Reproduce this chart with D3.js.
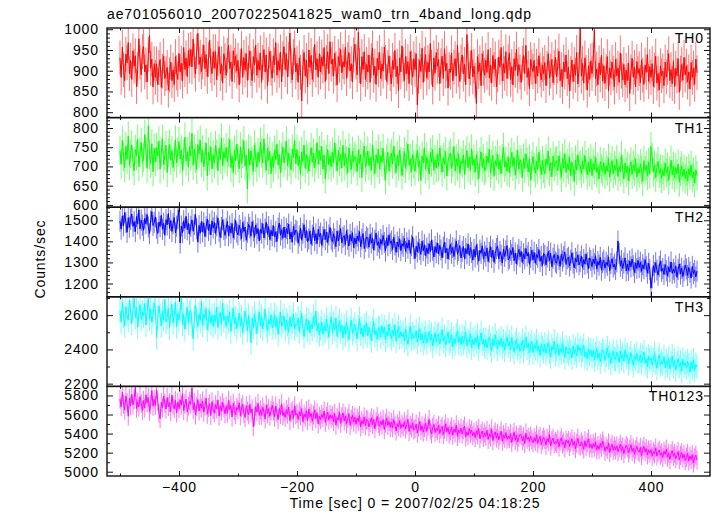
<!DOCTYPE html>
<html><head><meta charset="utf-8">
<script src="https://cdn.jsdelivr.net/npm/d3@7"></script>
<style>
body{margin:0;background:#fff}
text{font-family:"Liberation Sans",Arial,Helvetica,sans-serif}
</style>
</head><body>
<svg id="chart" width="717" height="516"></svg>
<script>
// ---- data (count rates, 2 s bins starting at t = -500 s) ----
const binStart = -500, binWidth = 2;
const th0 = [931,884,957,902,876,940,919,968,893,925,
879,948,911,936,862,903,977,921,890,946,
958,897,914,873,939,985,906,928,861,917,
884,917,866,908,927,860,899,936,881,893,
908,853,890,921,876,902,867,934,895,879,
942,897,918,875,956,903,931,886,949,912,
951,909,976,924,892,946,990,915,933,898,
921,962,905,939,886,927,974,912,893,946,
907,946,878,929,958,893,917,870,941,924,
889,937,962,905,921,874,948,913,936,899,
925,866,911,953,884,932,902,941,877,919,
948,905,876,934,914,962,889,925,901,943,
872,920,951,897,938,863,915,947,906,882,
936,914,968,889,924,901,945,873,929,958,
903,941,885,927,991,912,878,934,955,897,
918,872,931,896,827,909,944,887,925,861,
950,908,937,879,915,963,902,929,884,941,
897,933,911,956,874,920,946,893,970,916,
928,887,942,905,866,934,913,951,895,922,
909,957,881,926,944,899,917,873,938,964,
921,890,993,912,868,934,903,946,879,915,
897,938,872,924,955,889,911,867,930,902,
944,881,916,899,957,920,874,908,936,893,
868,925,903,949,886,911,852,931,897,960,
915,876,934,893,922,869,946,907,884,929,
903,941,818,887,925,898,954,872,916,939,
882,920,897,966,908,861,931,894,944,911,
927,869,912,935,881,953,899,918,858,904,
896,943,876,909,929,887,962,902,874,921,
938,892,915,866,987,924,880,907,949,885,
911,877,821,934,898,919,864,941,906,889,
925,896,951,882,913,870,937,903,928,861,
890,933,908,956,875,917,894,946,881,922,
943,879,910,866,929,901,952,888,915,897,
872,918,937,893,961,884,906,857,927,909,
898,925,869,911,887,936,902,878,914,893,
920,864,906,941,882,899,927,871,908,933,
885,912,947,876,903,862,921,897,938,881,
909,851,893,926,874,915,889,944,868,902,
1004,887,918,870,931,896,853,912,879,924,
893,926,999,881,904,866,919,890,937,875,
912,869,898,934,851,907,883,921,894,861,
927,888,906,872,943,899,878,915,866,901,
876,919,845,897,930,884,908,861,922,893,
905,871,926,889,867,914,896,939,874,910,
884,917,862,901,935,870,893,854,912,888,
899,864,921,885,908,941,876,903,869,924,
862,906,888,929,848,894,915,877,932,890,
911,873,897,856,920,884,906,867,928,895];
const th1 = [741,706,768,725,697,752,718,779,702,733,
756,713,689,744,728,771,699,736,762,711,
724,783,738,695,806,731,708,759,686,747,
712,749,727,766,693,738,771,704,729,755,
684,735,758,716,742,697,724,769,709,737,
765,719,743,688,731,776,714,739,698,752,
727,786,703,745,721,692,757,733,768,711,
743,699,726,761,675,738,716,751,694,730,
708,755,732,689,747,718,774,703,737,721,
749,712,736,770,697,728,684,743,715,758,
722,694,751,708,733,767,701,729,642,746,
703,741,715,687,756,724,698,737,711,763,
735,709,772,722,690,748,716,739,681,726,
697,743,718,758,704,731,683,724,751,710,
729,766,701,734,712,691,745,722,768,707,
744,702,727,679,738,713,756,695,730,719,
688,725,749,711,735,697,721,762,706,741,
716,752,693,730,668,718,744,704,727,699,
737,709,761,724,689,742,713,731,696,755,
701,733,715,683,748,722,692,739,711,726,
719,687,742,708,731,671,724,753,698,716,
740,702,723,690,756,714,681,730,709,745,
693,728,711,747,700,665,719,737,688,722,
734,706,752,716,684,729,701,743,712,677,
710,739,695,725,758,703,720,686,731,706,
688,721,742,698,715,664,727,709,749,693,
725,702,680,736,711,744,690,718,696,731,
699,748,716,685,723,706,739,675,712,728,
735,694,711,752,688,720,701,733,682,714,
707,730,679,717,741,696,724,690,746,703,
719,685,731,702,668,712,738,697,721,689,
696,727,710,744,683,706,729,674,715,701,
732,693,716,681,720,750,698,713,687,725,
684,711,736,700,724,677,705,742,692,718,
709,671,722,695,733,711,686,719,664,703,
726,698,683,714,692,737,705,679,716,694,
681,719,704,740,688,710,673,727,699,712,
715,689,728,702,671,721,696,733,684,707,
692,724,676,711,698,661,717,690,730,701,
703,682,714,693,728,705,678,711,687,720,
676,708,691,725,684,699,667,713,694,686,
710,679,702,688,721,672,697,715,681,703,
690,719,674,700,686,729,693,668,709,684,
701,663,696,712,679,704,688,720,672,695,
683,707,691,661,715,689,702,676,711,680,
752,724,685,704,671,698,713,682,694,669,
692,675,709,683,698,664,689,716,678,701,
671,697,680,706,659,687,702,674,693,668,
688,662,694,677,703,670,685,657,691,676];
const th2 = [1496,1458,1521,1474,1537,1489,1443,1512,1467,1505,
1530,1471,1494,1446,1518,1482,1549,1459,1501,1477,
1452,1509,1483,1527,1468,1436,1497,1541,1475,1490,
1516,1463,1438,1492,1470,1524,1457,1486,1429,1503,
1478,1532,1461,1499,1447,1484,1513,1440,1472,1507,
1548,1392,1473,1441,1498,1462,1519,1455,1486,1434,
1471,1502,1448,1480,1527,1459,1396,1476,1438,1494,
1445,1488,1423,1469,1506,1451,1482,1430,1497,1463,
1490,1437,1474,1511,1448,1419,1466,1502,1456,1428,
1462,1495,1427,1473,1440,1485,1416,1458,1499,1444,
1431,1476,1454,1412,1489,1447,1468,1405,1443,1481,
1465,1424,1493,1450,1419,1478,1436,1461,1402,1457,
1439,1484,1416,1458,1491,1433,1470,1408,1452,1426,
1475,1421,1446,1399,1463,1487,1429,1455,1414,1468,
1418,1460,1437,1482,1411,1444,1396,1472,1431,1453,
1447,1391,1426,1463,1405,1438,1479,1417,1452,1398,
1412,1450,1386,1429,1468,1403,1436,1389,1457,1422,
1439,1381,1421,1457,1408,1445,1394,1430,1466,1410,
1398,1436,1413,1375,1449,1402,1428,1461,1392,1419,
1427,1384,1452,1409,1378,1433,1401,1441,1370,1416,
1388,1425,1403,1446,1374,1411,1437,1366,1399,1421,
1414,1372,1434,1392,1416,1359,1405,1440,1381,1398,
1367,1409,1386,1428,1395,1354,1417,1379,1431,1391,
1402,1361,1420,1383,1348,1397,1374,1412,1356,1389,
1376,1415,1352,1393,1368,1406,1343,1381,1422,1365,
1318,1377,1349,1394,1362,1338,1401,1356,1384,1331,
1369,1342,1389,1351,1407,1358,1326,1375,1346,1392,
1340,1381,1359,1322,1373,1396,1345,1367,1316,1361,
1386,1344,1371,1328,1363,1402,1339,1357,1380,1321,
1352,1375,1318,1366,1341,1388,1333,1370,1347,1311,
1362,1325,1384,1339,1306,1358,1343,1379,1316,1350,
1331,1369,1304,1348,1376,1323,1359,1301,1342,1366,
1379,1317,1352,1335,1297,1364,1328,1355,1380,1312,
1320,1357,1338,1371,1308,1345,1293,1336,1362,1327,
1353,1300,1341,1318,1366,1330,1347,1291,1324,1358,
1312,1348,1296,1337,1323,1361,1305,1329,1284,1343,
1333,1289,1326,1352,1309,1344,1279,1320,1338,1302,
1296,1335,1315,1281,1340,1307,1327,1350,1290,1318,
1325,1283,1311,1346,1297,1274,1319,1302,1336,1288,
1304,1331,1276,1314,1292,1339,1298,1271,1322,1309,
1280,1316,1294,1332,1268,1305,1287,1324,1263,1299,
1311,1273,1301,1286,1327,1260,1295,1318,1278,1292,
1266,1303,1402,1343,1282,1309,1271,1297,1322,1259,
1293,1262,1307,1279,1316,1284,1252,1298,1271,1310,
1276,1301,1258,1289,1270,1313,1281,1249,1296,1266,
1178,1227,1285,1253,1299,1264,1240,1281,1307,1258,
1272,1243,1290,1261,1236,1279,1255,1302,1248,1268,
1251,1284,1229,1266,1293,1245,1273,1233,1260,1287,
1269,1238,1276,1254,1226,1281,1247,1262,1231,1259];
const th3 = [2623,2561,2678,2594,2537,2649,2602,2571,2688,2615,
2552,2631,2703,2586,2644,2529,2607,2662,2574,2619,
2596,2668,2543,2617,2712,2578,2635,2558,2601,2672,
2639,2468,2581,2654,2599,2538,2621,2573,2692,2560,
2587,2641,2526,2609,2663,2554,2598,2677,2532,2612,
2571,2628,2702,2547,2604,2519,2583,2645,2556,2614,
2629,2548,2462,2591,2657,2576,2532,2609,2565,2681,
2540,2607,2582,2639,2513,2574,2626,2551,2598,2535,
2601,2559,2648,2527,2583,2616,2545,2671,2568,2593,
2533,2594,2562,2618,2504,2577,2640,2549,2586,2521,
2566,2612,2538,2589,2497,2555,2623,2573,2510,2598,
2544,2438,2581,2527,2608,2559,2491,2565,2619,2536,
2592,2518,2569,2634,2542,2507,2575,2548,2601,2525,
2557,2603,2529,2586,2488,2552,2617,2534,2563,2596,
2514,2571,2546,2499,2590,2531,2562,2605,2520,2549,
2541,2583,2504,2558,2611,2527,2476,2537,2578,2512,
2570,2496,2545,2519,2593,2538,2624,2507,2551,2485,
2523,2562,2489,2539,2506,2575,2528,2470,2547,2590,
2498,2553,2516,2584,2475,2531,2567,2503,2542,2466,
2535,2487,2559,2511,2457,2526,2572,2494,2518,2548,
2508,2462,2531,2579,2489,2524,2473,2541,2500,2553,
2478,2529,2495,2451,2517,2565,2484,2511,2459,2526,
2522,2470,2539,2493,2530,2456,2505,2477,2547,2488,
2463,2512,2481,2544,2447,2496,2533,2468,2502,2475,
2494,2451,2518,2469,2430,2487,2536,2458,2492,2465,
2472,2509,2443,2483,2521,2455,2491,2436,2466,2500,
2438,2477,2504,2452,2488,2419,2463,2497,2445,2482,
2490,2431,2468,2515,2449,2475,2425,2459,2503,2437,
2451,2489,2414,2462,2433,2481,2507,2440,2471,2428,
2478,2436,2466,2501,2420,2457,2443,2492,2410,2459,
2426,2468,2437,2482,2404,2449,2496,2431,2458,2415,
2457,2409,2446,2473,2428,2391,2462,2419,2485,2440,
2402,2451,2425,2466,2413,2448,2396,2437,2474,2420,
2444,2398,2469,2417,2383,2434,2459,2405,2429,2388,
2415,2453,2391,2428,2471,2408,2436,2379,2421,2446,
2381,2426,2404,2451,2392,2418,2365,2433,2409,2387,
2430,2376,2412,2440,2385,2357,2419,2396,2448,2371,
2398,2427,2364,2406,2381,2435,2390,2352,2414,2388,
2373,2408,2386,2349,2421,2377,2399,2362,2425,2392,
2411,2366,2395,2423,2354,2384,2346,2402,2371,2397,
2357,2394,2340,2373,2406,2349,2380,2327,2368,2398,
2386,2335,2367,2410,2352,2376,2319,2361,2389,2344,
2342,2383,2358,2325,2391,2347,2372,2331,2397,2355,
2369,2316,2350,2381,2338,2306,2362,2345,2377,2329,
2334,2368,2321,2356,2385,2318,2347,2300,2359,2337,
2352,2309,2339,2376,2323,2290,2344,2366,2311,2331,
2315,2358,2294,2333,2307,2349,2286,2322,2361,2301,
2336,2280,2318,2347,2299,2326,2272,2342,2305,2321,
2293,2331,2310,2268,2324,2289,2338,2277,2312,2296];
const th0123 = [5762,5681,5834,5709,5648,5795,5726,5582,5771,5690,
5813,5702,5756,5885,5664,5731,5679,5788,5715,5642,
5748,5667,5806,5723,5781,5633,5704,5852,5687,5759,
5696,5863,5741,5612,5558,5728,5670,5794,5719,5657,
5778,5683,5724,5629,5805,5702,5661,5747,5615,5730,
5663,5754,5697,5818,5640,5711,5762,5625,5688,5739,
5706,5879,5651,5723,5596,5684,5758,5637,5715,5668,
5742,5625,5689,5771,5603,5675,5716,5589,5734,5654,
5617,5703,5658,5751,5582,5694,5636,5727,5671,5609,
5688,5613,5745,5652,5696,5574,5719,5641,5598,5676,
5651,5724,5587,5669,5706,5612,5568,5693,5637,5597,
5704,5618,5659,5472,5574,5683,5627,5716,5591,5648,
5592,5677,5621,5553,5701,5608,5661,5581,5639,5697,
5636,5572,5689,5618,5547,5663,5599,5712,5586,5625,
5571,5652,5604,5679,5536,5617,5643,5559,5691,5595,
5611,5548,5629,5587,5662,5522,5604,5571,5641,5535,
5657,5576,5613,5529,5594,5648,5555,5619,5501,5583,
5547,5602,5563,5637,5518,5579,5627,5540,5598,5561,
5590,5526,5612,5489,5568,5542,5623,5507,5575,5616,
5534,5581,5503,5560,5611,5486,5549,5592,5521,5573,
5498,5562,5527,5589,5471,5536,5503,5574,5482,5548,
5541,5469,5517,5566,5495,5552,5452,5524,5580,5506,
5477,5532,5490,5548,5441,5511,5563,5485,5529,5464,
5519,5461,5545,5488,5428,5503,5472,5536,5455,5497,
5470,5525,5448,5493,5551,5421,5486,5459,5514,5437,
5452,5499,5406,5468,5527,5433,5481,5415,5462,5508,
5423,5478,5548,5439,5395,5463,5496,5411,5455,5431,
5487,5401,5449,5475,5388,5441,5502,5419,5466,5393,
5427,5470,5383,5446,5412,5491,5370,5437,5404,5458,
5395,5442,5479,5364,5418,5381,5453,5402,5436,5377,
5413,5356,5431,5389,5454,5345,5397,5426,5361,5408,
5371,5435,5339,5396,5362,5449,5327,5384,5418,5352,
5402,5333,5379,5425,5320,5387,5351,5410,5341,5375,
5346,5398,5308,5366,5414,5329,5382,5311,5359,5393,
5381,5324,5368,5293,5405,5338,5362,5316,5372,5335,
5304,5357,5319,5386,5297,5342,5371,5285,5330,5363,
5337,5278,5348,5314,5389,5270,5326,5352,5292,5318,
5296,5341,5259,5322,5356,5287,5313,5250,5334,5301,
5327,5264,5309,5345,5276,5318,5241,5299,5351,5283,
5269,5314,5283,5236,5325,5262,5307,5344,5254,5291,
5243,5296,5258,5311,5229,5276,5233,5298,5255,5321,
5281,5215,5262,5237,5302,5201,5253,5287,5224,5266,
5228,5271,5207,5249,5290,5222,5261,5190,5239,5277,
5256,5196,5238,5284,5213,5247,5184,5231,5268,5218,
5203,5254,5171,5226,5266,5208,5243,5176,5229,5195,
5233,5162,5211,5187,5250,5164,5205,5228,5173,5199,
5148,5214,5181,5236,5153,5194,5129,5187,5221,5160,
5192,5136,5173,5211,5125,5169,5201,5141,5183,5117,
5151,5193,5112,5164,5127,5178,5092,5145,5173,5121];

const bandNames  = ["TH0","TH1","TH2","TH3","TH0123"];
const bandSeries = [th0, th1, th2, th3, th0123];
const bandErrors = [42, 38, 50, 70, 100];          // error-bar half-length (counts/sec)
const bandDomains = [[787,1003],[594,827],[1137,1562],[2184,2707],[4955,5895]];
const bandMajorStep = [50, 50, 100, 200, 200];
const bandMinorStep = [10, 10, 20, 100, 100];
const bandColors = ["#ff0000","#00ff00","#0000ff","#00ffff","#ff00ff"];
const xDomain = [-522, 500];
const xMajorTicks = [-400, -200, 0, 200, 400];
const xMinorTicks = [-500, -300, -100, 100, 300];
const titleText = "ae701056010_20070225041825_wam0_trn_4band_long.qdp";
const xLabelText = "Time [sec] 0 = 2007/02/25 04:18:25";
const yLabelText = "Counts/sec";

// ---- layout ----
const PL = 107, PR = 710, PT = 28, PB = 476;
const nP = bandNames.length;
const pH = (PB - PT) / nP;
const FS = 14, LS = 0.9;

const svg = d3.select("#chart");
const x = d3.scaleLinear().domain(xDomain).range([PL, PR]);

function ticksBetween(dom, step){
  const a = Math.ceil(dom[0]/step)*step, out=[];
  for(let v=a; v<=dom[1]+1e-9; v+=step) out.push(v);
  return out;
}
function styleText(sel){
  sel.attr("font-size", FS).attr("fill","#000").attr("letter-spacing", LS)
     .attr("font-family",'"Liberation Sans",Arial,sans-serif');
}

bandNames.forEach((name, k) => {
  const y0 = PT + k*pH, y1 = y0 + pH;
  const y = d3.scaleLinear().domain(bandDomains[k]).range([y1, y0]);
  const vals = bandSeries[k];
  const pts = vals.map((v,i) => ({t: binStart + i*binWidth, v}));
  const col = bandColors[k];
  const err = bandErrors[k];

  const clipId = "clip"+k;
  svg.append("clipPath").attr("id", clipId).append("rect")
    .attr("x", PL).attr("y", y0).attr("width", PR-PL).attr("height", pH);

  const g = svg.append("g").attr("clip-path", `url(#${clipId})`);
  g.append("path")
    .attr("d", pts.map(p => `M${x(p.t)},${y(p.v-err)}V${y(p.v+err)}`).join(""))
    .attr("stroke", col).attr("stroke-opacity", 0.55).attr("stroke-width", 1).attr("fill","none");
  g.append("path").datum(pts)
    .attr("d", d3.line().x(p => x(p.t)).y(p => y(p.v)))
    .attr("stroke", col).attr("stroke-width", 1).attr("fill","none");

  const majors = ticksBetween(bandDomains[k], bandMajorStep[k]);
  const minors = ticksBetween(bandDomains[k], bandMinorStep[k]).filter(v => !majors.includes(v));
  const yl = svg.append("g").attr("transform", `translate(${PL},0)`)
    .call(d3.axisLeft(y).tickValues(majors).tickSize(-6).tickPadding(8).tickFormat(d3.format("d")));
  styleText(yl.selectAll("text"));
  svg.append("g").attr("transform", `translate(${PL},0)`)
    .call(d3.axisLeft(y).tickValues(minors).tickSize(-3).tickFormat(""));
  svg.append("g").attr("transform", `translate(${PR},0)`)
    .call(d3.axisRight(y).tickValues(majors).tickSize(-6).tickFormat(""));
  svg.append("g").attr("transform", `translate(${PR},0)`)
    .call(d3.axisRight(y).tickValues(minors).tickSize(-3).tickFormat(""));

  svg.append("g").attr("transform", `translate(0,${y0})`)
    .call(d3.axisTop(x).tickValues(xMajorTicks).tickSize(-5).tickFormat(""));
  svg.append("g").attr("transform", `translate(0,${y0})`)
    .call(d3.axisTop(x).tickValues(xMinorTicks).tickSize(-2.5).tickFormat(""));
  const xb = svg.append("g").attr("transform", `translate(0,${y1})`)
    .call(d3.axisBottom(x).tickValues(xMajorTicks).tickSize(-5).tickPadding(6)
      .tickFormat(k === nP-1 ? d3.format("d") : ""));
  styleText(xb.selectAll("text"));
  svg.append("g").attr("transform", `translate(0,${y1})`)
    .call(d3.axisBottom(x).tickValues(xMinorTicks).tickSize(-2.5).tickFormat(""));

  svg.append("rect").attr("x", PL).attr("y", y0).attr("width", PR-PL).attr("height", pH)
    .attr("fill","none").attr("stroke","#111").attr("stroke-width",1.4);

  styleText(svg.append("text").attr("x", PR-6).attr("y", y0+15).attr("text-anchor","end").text(name));
});

svg.selectAll(".domain").remove();
svg.selectAll(".tick line").attr("stroke","#111").attr("stroke-width",1);

styleText(svg.append("text").attr("x", PL).attr("y", 19).text(titleText));
styleText(svg.append("text").attr("x", 415).attr("y", 508).attr("text-anchor","middle").text(xLabelText));
styleText(svg.append("text").attr("transform", `translate(45,259) rotate(-90)`).attr("text-anchor","middle").text(yLabelText));
</script>
</body></html>
